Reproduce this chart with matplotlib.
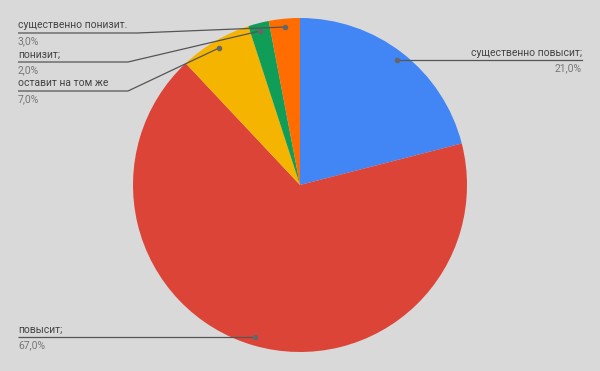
import matplotlib
matplotlib.use("Agg")
import matplotlib.pyplot as plt

categories = ["существенно повысит;", "повысит;", "оставит на том же", "понизит;", "существенно понизит."]
values = [21.0, 67.0, 7.0, 2.0, 3.0]
pct_labels = ["21,0%", "67,0%", "7,0%", "2,0%", "3,0%"]
colors = ["#4285f4", "#db4437", "#f4b400", "#0f9d58", "#ff6d01"]

W, H = 600, 371
bg = "#d9d9d9"
fig = plt.figure(figsize=(6.0, 3.71), dpi=100, facecolor=bg)
ax = fig.add_axes([0, 0, 1, 1])
ax.set_facecolor(bg)
ax.set_xlim(0, W)
ax.set_ylim(0, H)
ax.set_aspect("equal")
ax.axis("off")

cx, cy, r = 300, H - 185, 167
ax.pie(values, colors=colors, startangle=90, counterclock=False,
       center=(cx, cy), radius=r, frame=True,
       wedgeprops=dict(linewidth=0))
ax.set_xlim(0, W)
ax.set_ylim(0, H)
ax.axis("off")

font = "Roboto"
lab_col = "#444444"
pct_col = "#777777"
line_col = "#555555"
fs = 7.5

# (dot x, dot y, elbow x, line y, text x, align) in pixel coords (top-down y)
anno = {
    0: (397, 60, 582, 60, 582, "right"),
    1: (255, 337, 18, 337, 18, "left"),
    2: (219, 48, 128, 91, 18, "left"),
    3: (260, 31, 128, 62, 18, "left"),
    4: (285, 27, 137, 33, 18, "left"),
}
for i, (dx, dy, ex, ly, tx, ha) in anno.items():
    if ha == "left":
        ax.plot([dx, ex, 18], [H - dy, H - ly, H - ly], color=line_col, lw=0.9, solid_capstyle="butt")
    else:
        ax.plot([dx, ex], [H - dy, H - ly], color=line_col, lw=0.9)
    ax.plot([dx], [H - dy], "o", color="#666666", ms=3)
    ax.text(tx, H - ly + 2.5, categories[i], ha=ha, va="bottom", fontsize=fs,
            color=lab_col, family=font)
    ax.text(tx, H - ly - 3, pct_labels[i], ha=ha, va="top", fontsize=fs,
            color=pct_col, family=font)

fig.savefig("out.png", dpi=100, facecolor=bg)
